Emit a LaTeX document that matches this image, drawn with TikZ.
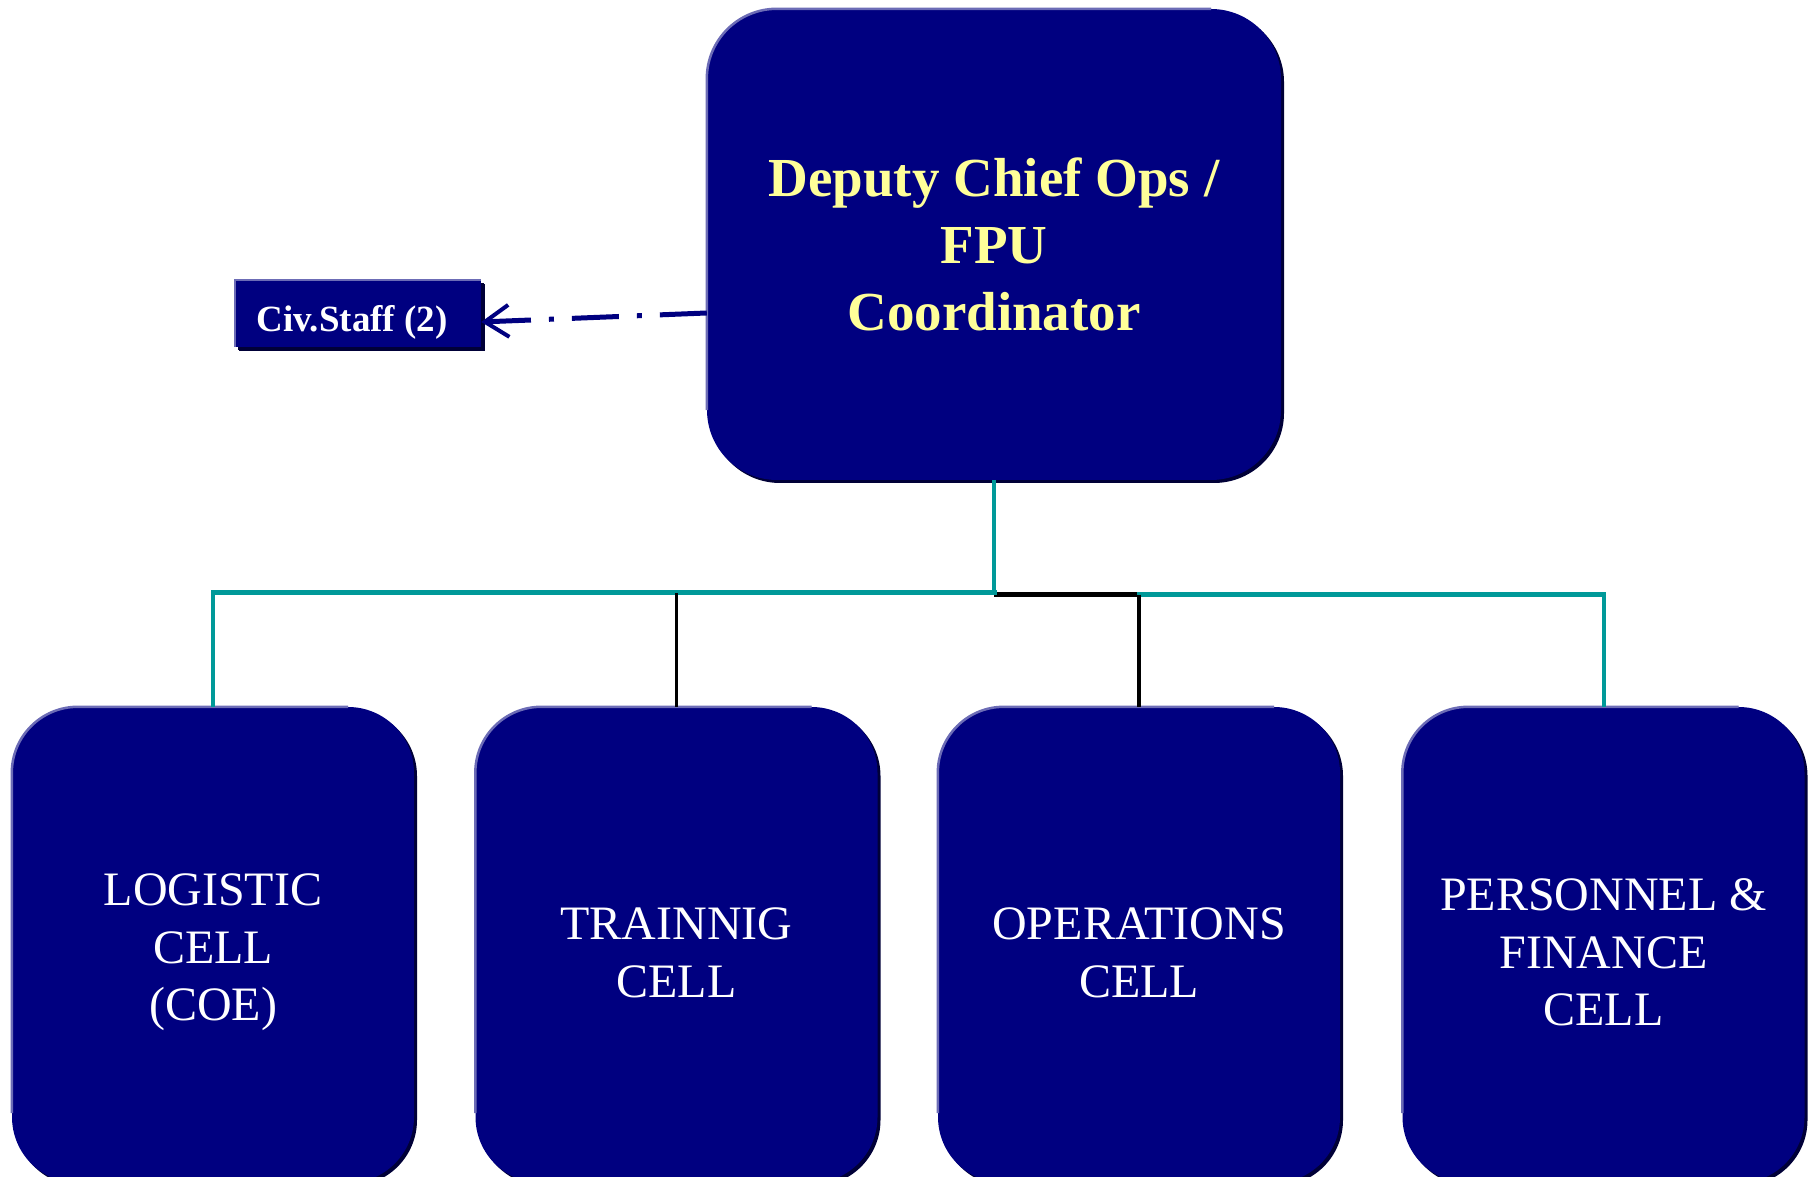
\documentclass[tikz,border=0pt]{standalone}
\usepackage{fontspec}
\setmainfont{Liberation Serif}
\usetikzlibrary{arrows.meta,calc,shadows}
\definecolor{navy}{RGB}{0,0,128}
\definecolor{tealc}{RGB}{0,153,153}
\definecolor{yel}{RGB}{255,255,153}
\definecolor{bevelc}{RGB}{108,108,182}
\definecolor{shadec}{RGB}{0,0,55}
\newcommand{\cellstrut}{\rule{0pt}{47pt}}
\begin{document}
\begin{tikzpicture}[x=1pt,y=1pt,
  navybox/.style={fill=navy, inner sep=0pt, align=center,
    drop shadow={shadow xshift=3pt, shadow yshift=-3pt, fill=shadec, opacity=1}},
  topbox/.style={navybox, rounded corners=70pt, minimum width=574pt, minimum height=471pt,
    text=yel, font={\fontsize{55}{67}\selectfont\bfseries}},
  civbox/.style={navybox, rounded corners=0pt, minimum width=246pt, minimum height=67pt,
    text=white, font={\fontsize{37}{44}\selectfont\bfseries},
    execute at begin node={\hspace*{-12pt}\rule{0pt}{43pt}},
    drop shadow={shadow xshift=4pt, shadow yshift=-4pt, fill=shadec, opacity=1}},
  cellbox/.style={navybox, rounded corners=66pt, minimum width=402pt, minimum height=476pt,
    text=white, font={\fontsize{48}{57.5}\selectfont}},
  bevel/.style={draw=bevelc, line width=2.5pt},
  tealv/.style={draw=tealc, line width=4pt},
  tealh/.style={draw=tealc, line width=5pt, line cap=rect},
  blackv/.style={draw=black, line width=3.5pt},
  blackh/.style={draw=black, line width=5pt},
  dashdot/.style={draw=navy, line width=5pt, dash pattern=on 47pt off 18pt on 5pt off 18pt,
    -{Straight Barb[length=24pt, width=32pt, line width=4pt]}}
]
\useasboundingbox (0,0) rectangle (1812,1177);
\clip (0,0) rectangle (1812,1177);

% nodes
\node[topbox] (top) at (994,932.5) {Deputy Chief Ops /\\FPU\\Coordinator};
\node[civbox] (civ) at (358,863.5) {Civ.Staff (2)};
\node[cellbox] (l1) at (213,232) {\cellstrut LOGISTIC\\CELL\\(COE)};
\node[cellbox] (l2) at (676.5,232) {\cellstrut TRAINNIG\\CELL};
\node[cellbox] (l3) at (1139,232) {\cellstrut OPERATIONS\\CELL};
\node[cellbox] (l4) at (1603.5,232) {\cellstrut PERSONNEL \&\\FINANCE\\CELL};

% bevel highlights
\draw[bevel, rounded corners=70pt] ($(top.south west)+(0,70)$) |- ($(top.north east)+(-70,0)$);
\draw[bevel] (civ.south west) |- (civ.north east);
\foreach \c in {l1,l2,l3,l4}{
  \draw[bevel, rounded corners=66pt] ($(\c.south west)+(0,70)$) |- ($(\c.north east)+(-66,0)$);
}

% connectors
\coordinate (j) at (994,584);
\coordinate (k) at (994,582);
\draw[tealv] (top.south) -- (j);
\draw[blackh] (k) -- (k -| l3.north);
\draw[tealh] (j) -- (j -| l1.north);
\draw[tealh] (k -| l3.north) -- (k -| l4.north);
\draw[tealv] (j -| l1.north) -- (l1.north);
\draw[blackv] (j -| l2.north) -- (l2.north);
\draw[blackv] (k -| l3.north) -- (l3.north);
\draw[tealv] (k -| l4.north) -- (l4.north);

% dash-dot arrow
\draw[dashdot] ([yshift=-68.5pt]top.west) -- ([yshift=-8.5pt]civ.east);
\end{tikzpicture}
\end{document}
